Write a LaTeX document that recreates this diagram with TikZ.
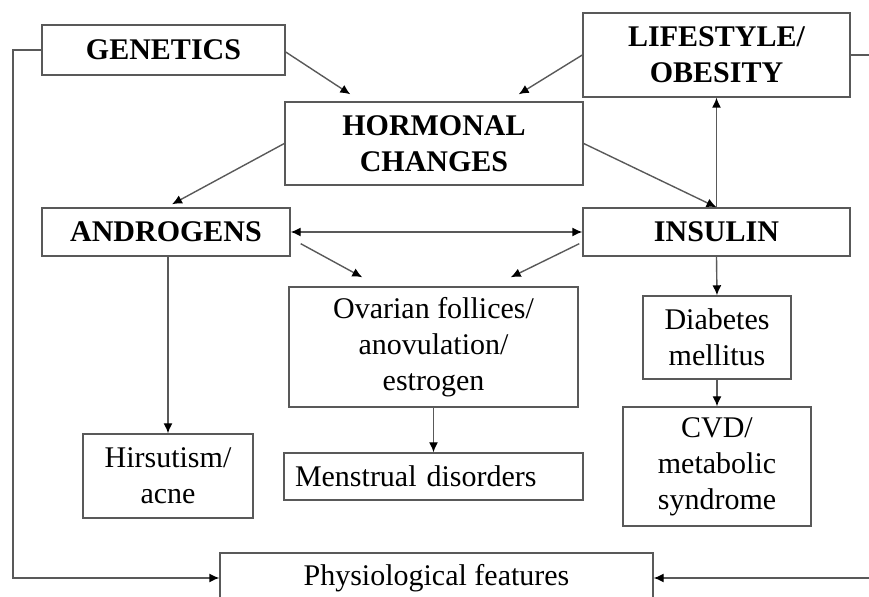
\documentclass[tikz,border=0pt]{standalone}
\usepackage{fontspec}
\setmainfont{Liberation Serif}
\usepackage{tikz}
\usetikzlibrary{arrows.meta,calc}

\tikzset{
	box/.style={draw=black!65, line width=0.7pt, inner sep=0pt, align=center, font=\fontsize{15}{18}\selectfont},
	hd/.style={box, font=\fontsize{15}{18}\selectfont\bfseries},
	tip/.tip={Latex[length=5pt,width=4.5pt,color=black]},
	arr/.style={draw=black!65, line width=0.7pt, -tip}
}

\begin{document}
\begin{tikzpicture}[x=0.5pt, y=-0.5pt]
				\useasboundingbox (0,0) rectangle (869,597);
				% top row
				\node[hd, minimum width=121.5pt, minimum height=25pt] (gen) at (163.5,50) {GENETICS};
				\node[hd, minimum width=133.5pt, minimum height=42pt] (life) at (716.5,55) {LIFESTYLE/\\OBESITY};
				\node[hd, minimum width=149pt, minimum height=41.5pt] (horm) at (434,143.5) {HORMONAL\\CHANGES};
				\node[hd, minimum width=124pt, minimum height=24pt] (andr) at (166,232) {ANDROGENS};
				\node[hd, minimum width=133.5pt, minimum height=24pt] (ins) at (716.5,232) {INSULIN};
				% effects
				\node[box, minimum width=144.5pt, minimum height=60pt] (ovar) at (433.5,347) {Ovarian follices/\\anovulation/\\estrogen};
				\node[box, minimum width=74pt, minimum height=41.5pt] (diab) at (717,337.5) {Diabetes\\mellitus};
				\node[box, minimum width=94pt, minimum height=59.5pt] (cvd) at (717,466.5) {CVD/\\metabolic\\syndrome};
				\node[box, minimum width=85pt, minimum height=42pt] (hirs) at (168,476) {Hirsutism/\\acne};
				\node[box, align=left, text width=138.5pt, inner xsep=5.5pt, minimum height=23.5pt] (mens) at (433.5,476.5) {Menstrual disorders};
				\node[box, minimum width=216.5pt, minimum height=25pt] (phys) at (436.5,578) {Physiological features};
				% arrows
				\draw[arr] ($(gen.east)+(0,2)$) -- ($(horm.north west)+(66,-7)$);
				\draw[arr] (life.west) -- ($(horm.north east)+(-65,-7)$);
				\draw[arr] (horm.west) -- ($(andr.north)+(6,-3)$);
				\draw[arr] (horm.east) -- (ins.north);
				\draw[arr] (ins.north) -- (life.south);
				\draw[arr, tip-tip] (andr.east) -- (ins.west);
				\draw[arr] ($(andr.south east)+(10,-13)$) -- ($(ovar.north west)+(74,-9)$);
				\draw[arr] ($(ins.south west)+(-3,-13)$) -- ($(ovar.north east)+(-68,-9)$);
				\draw[arr] (hirs.north |- andr.south) -- (hirs.north);
				\draw[arr] (ins.south) -- (diab.north);
				\draw[arr] (diab.south) -- (cvd.north);
				\draw[arr] (ovar.south) -- (mens.north);
				% side lines
				\draw[arr] (gen.west) -- (13,50) |- (phys.west);
				\draw[arr] (life.east) -- (880,55) |- (phys.east);
			\end{tikzpicture}
\end{document}
